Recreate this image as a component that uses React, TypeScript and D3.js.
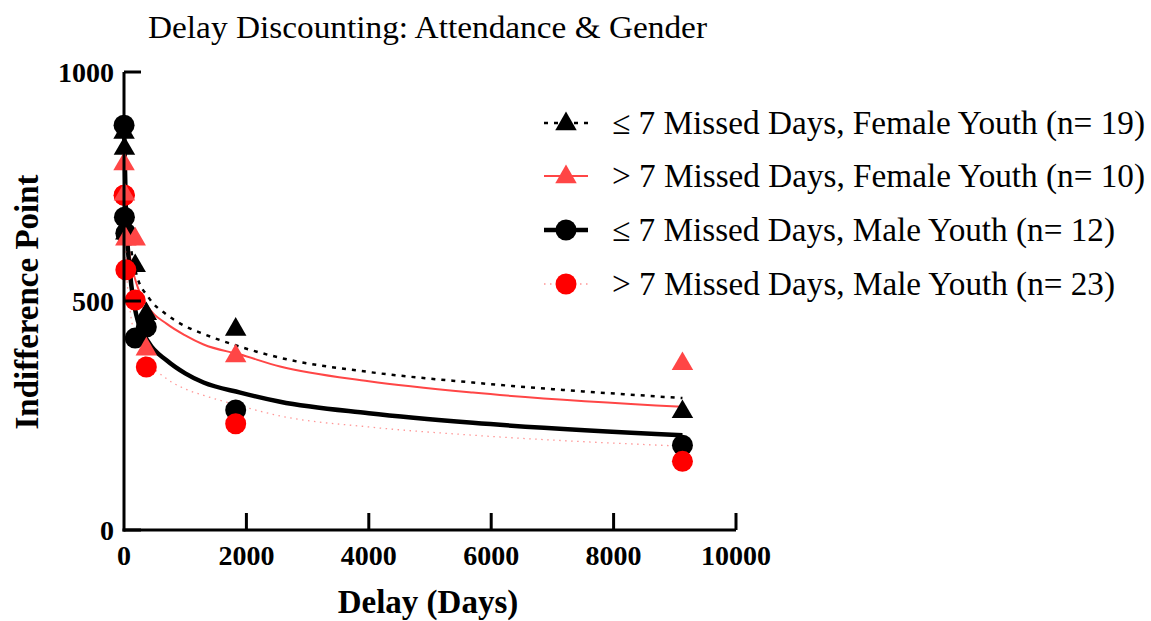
import React from 'react';
import * as d3 from 'd3';

// delays (days) at which indifference points were measured
const delays = [1, 7, 30, 183, 365, 1825, 9125];
const femaleLow = [870, 835, 650, 579, 474, 440, 260];   // <= 7 missed, female
const femaleHigh = [801, 735, 637, 637, 397, 382, 365];  // > 7 missed, female
const maleLow = [884, 683, 648, 419, 443, 262, 185];     // <= 7 missed, male
const maleHigh = [731, 731, 568, 502, 356, 232, 150];    // > 7 missed, male

// fitted curves
const fitDelays = [1, 30, 100, 200, 400, 700, 1000, 1300, 1900, 2550, 4000, 5700, 9125];
const fitFemaleLow = [870, 730, 630, 560, 508, 470, 445, 428, 400, 376, 345, 322, 288];
const fitFemaleHigh = [800, 680, 595, 540, 486, 450, 425, 405, 383, 357, 325, 300, 269];
const fitMaleLow = [885, 700, 560, 470, 410, 370, 342, 322, 300, 280, 255, 234, 207];
const fitMaleHigh = [740, 600, 480, 420, 368, 330, 308, 294, 271, 249, 225, 207, 183];

const xTicks = [0, 2000, 4000, 6000, 8000, 10000];
const yTicks = [0, 500, 1000];

const legendLabels = [
  '\u2264 7 Missed Days, Female Youth (n= 19)',
  '> 7 Missed Days, Female Youth (n= 10)',
  '\u2264 7 Missed Days, Male Youth (n= 12)',
  '> 7 Missed Days, Male Youth (n= 23)',
];

const W = 1151;
const H = 621;
const serif = { fontFamily: "'Liberation Serif', 'Times New Roman', Times, serif" };

const RED_TRI = '#ff4646';
const RED_DOT = '#ff0000';

const series = [
  { key: 'fl', values: femaleLow, fit: fitFemaleLow, shape: 'tri', fill: '#000', line: { stroke: '#000', width: 2.5, dash: '4 6', opacity: 1 } },
  { key: 'fh', values: femaleHigh, fit: fitFemaleHigh, shape: 'tri', fill: RED_TRI, line: { stroke: RED_TRI, width: 2, dash: null, opacity: 1 } },
  { key: 'ml', values: maleLow, fit: fitMaleLow, shape: 'circle', fill: '#000', line: { stroke: '#000', width: 4.5, dash: null, opacity: 1 } },
  { key: 'mh', values: maleHigh, fit: fitMaleHigh, shape: 'circle', fill: RED_DOT, line: { stroke: '#ff6a6a', width: 1.3, dash: '1.5 4.5', opacity: 0.7 } },
];

// drawing order of the markers (last on top)
const markerOrder = ['fl', 'ml', 'mh', 'fh'];

const triPath = d3.symbol().type(d3.symbolTriangle).size(200)() as string;

function Marker({ shape, fill, x, y }: { shape: string; fill: string; x: number; y: number }) {
  if (shape === 'tri') return <path d={triPath} transform={`translate(${x},${y + 1})`} fill={fill} />;
  return <circle cx={x} cy={y} r={10.5} fill={fill} />;
}

export default function App() {
  const x = d3.scaleLinear().domain([0, 10000]).range([124, 736]);
  const y = d3.scaleLinear().domain([0, 1000]).range([530, 72]);

  const line = d3
    .line<[number, number]>()
    .x((d) => x(d[0]))
    .y((d) => y(d[1]))
    .curve(d3.curveMonotoneX);

  const legendY = [123, 176, 230, 284];
  const legendLens = [533, 533, 503, 503];

  return (
    <svg width={W} height={H} style={{ display: 'block', position: 'absolute', left: 0, top: 0, background: '#fff' }}>
      <text x={148} y={38} style={serif} fontSize={31} textLength={559} lengthAdjust="spacingAndGlyphs">
        Delay Discounting: Attendance &amp; Gender
      </text>

      {/* fitted curves */}
      {series.map((s) => (
        <path
          key={'fit' + s.key}
          d={line(fitDelays.map((d, i) => [d, s.fit[i]] as [number, number])) as string}
          fill="none"
          stroke={s.line.stroke}
          strokeWidth={s.line.width}
          strokeDasharray={s.line.dash ?? undefined}
          opacity={s.line.opacity}
        />
      ))}

      {/* data points */}
      {markerOrder.map((k) => {
        const s = series.find((q) => q.key === k)!;
        return (
          <g key={'pts' + k}>
            {delays.map((d, i) => (
              <Marker key={i} shape={s.shape} fill={s.fill} x={x(d)} y={y(s.values[i])} />
            ))}
          </g>
        );
      })}

      {/* axes */}
      <g stroke="#000" strokeWidth={3} fill="none">
        <line x1={x(0)} x2={x(0)} y1={y(1000)} y2={y(0) + 1.5} />
        <line x1={x(0) - 1.5} x2={x(10000)} y1={y(0)} y2={y(0)} />
        {yTicks.map((t) => (
          <line key={'yt' + t} x1={x(0)} x2={x(0) + 17} y1={y(t)} y2={y(t)} />
        ))}
        {xTicks.filter((t) => t > 0).map((t) => (
          <line key={'xt' + t} x1={x(t)} x2={x(t)} y1={y(0)} y2={y(0) - 17} />
        ))}
      </g>
      <g style={serif} fontWeight="bold" fontSize={28}>
        {yTicks.map((t) => (
          <text key={'yl' + t} x={x(0) - 10} y={y(t) + 10} textAnchor="end">
            {t}
          </text>
        ))}
        {xTicks.map((t) => (
          <text key={'xl' + t} x={x(t)} y={565} textAnchor="middle">
            {t}
          </text>
        ))}
      </g>
      <text x={428} y={613} style={serif} fontWeight="bold" fontSize={33} textAnchor="middle">
        Delay (Days)
      </text>
      <text
        transform="translate(38,302) rotate(-90)"
        style={serif}
        fontWeight="bold"
        fontSize={33}
        textAnchor="middle"
      >
        Indifference Point
      </text>

      {/* legend */}
      {series.map((s, i) => (
        <g key={'lg' + s.key}>
          <line
            x1={544}
            x2={588}
            y1={legendY[i]}
            y2={legendY[i]}
            stroke={s.line.stroke}
            strokeWidth={s.line.width}
            strokeDasharray={s.line.dash ?? undefined}
            opacity={s.line.opacity}
          />
          <Marker shape={s.shape} fill={s.fill} x={566} y={legendY[i]} />
          <text
            x={612}
            y={legendY[i] + 11}
            style={serif}
            fontSize={33}
            textLength={legendLens[i]}
            lengthAdjust="spacingAndGlyphs"
          >
            {legendLabels[i]}
          </text>
        </g>
      ))}
    </svg>
  );
}
